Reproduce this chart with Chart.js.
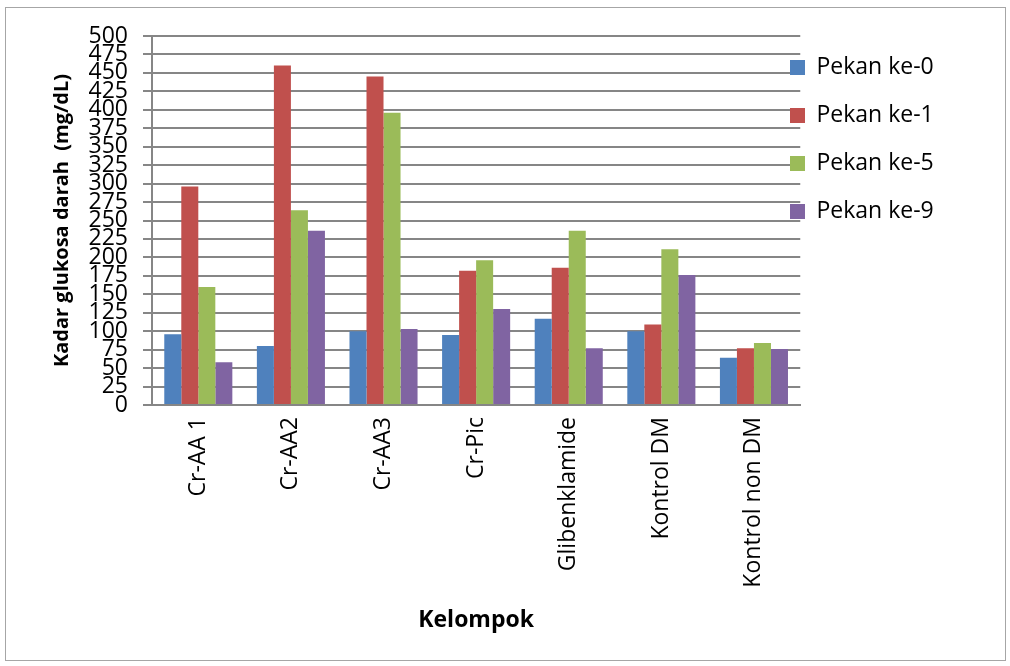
<!DOCTYPE html>
<html>
<head>
<meta charset="utf-8">
<script src="https://cdn.jsdelivr.net/npm/chart.js@4.4.0/dist/chart.umd.min.js"></script>
<style>
  html, body { margin: 0; padding: 0; background: #fff; }
  #frame { position: absolute; left: 5px; top: 7px; width: 999px; height: 652px; border: 1px solid #a6a6a6; }
  #wrap { position: absolute; left: 0; top: 0; width: 1010px; height: 666px; }
</style>
</head>
<body>
<div id="frame"></div>
<div id="wrap"><canvas id="chart" width="1010" height="666"></canvas></div>
<script>
var kelompok = ["Cr-AA 1", "Cr-AA2", "Cr-AA3", "Cr-Pic", "Glibenklamide", "Kontrol DM", "Kontrol non DM"];
var pekan0 = [96, 80, 100, 95, 117, 100, 64];
var pekan1 = [296, 460, 445, 182, 186, 109, 77];
var pekan5 = [160, 264, 396, 196, 236, 211, 84];
var pekan9 = [58, 236, 103, 130, 77, 176, 76];
var yTicks = [0, 25, 50, 75, 100, 125, 150, 175, 200, 225, 250, 275, 300, 325, 350, 375, 400, 425, 450, 475, 500];

var fam = "'Open Sans', 'Liberation Sans', sans-serif";

// nudge the legend a bit closer to the plot, like the original
var legendShift = {
    id: 'legendShift',
    afterLayout: function (chart) {
        var lg = chart.legend;
        var w = lg.right - lg.left;
        lg.left = 765;
        lg.right = lg.left + w;
        var h = lg.bottom - lg.top;
        lg.top = 31;
        lg.bottom = lg.top + h;
    }
};

var ctx = document.getElementById("chart").getContext("2d");
var myChart = new Chart(ctx, {
    type: 'bar',
    data: {
        labels: kelompok,
        datasets: [
            {label: 'Pekan ke-0', data: pekan0, backgroundColor: '#4F81BD'},
            {label: 'Pekan ke-1', data: pekan1, backgroundColor: '#C0504D'},
            {label: 'Pekan ke-5', data: pekan5, backgroundColor: '#9BBB59'},
            {label: 'Pekan ke-9', data: pekan9, backgroundColor: '#8064A2'}
        ]
    },
    plugins: [legendShift],
    options: {
        responsive: false,
        animation: false,
        datasets: {bar: {barPercentage: 1, categoryPercentage: 0.735}},
        layout: {padding: {left: 0, top: 36, right: 31, bottom: 0}},
        plugins: {
            tooltip: {enabled: false},
            legend: {
                position: 'right',
                align: 'start',
                labels: {
                    boxWidth: 15, boxHeight: 15, padding: 25,
                    color: '#000',
                    font: {family: fam, size: 23}
                }
            }
        },
        scales: {
            x: {
                afterFit: function (scale) { scale.height = 261; },
                grid: {display: false, drawTicks: false},
                border: {display: true, color: '#868686', width: 2},
                ticks: {
                    color: '#000', minRotation: 90, maxRotation: 90, autoSkip: false, padding: 12,
                    font: {family: fam, size: 23}
                },
                title: {
                    display: true, text: 'Kelompok', color: '#000', padding: {top: 0, bottom: 32},
                    font: {family: fam, size: 23, weight: 'bold'}
                }
            },
            y: {
                min: 0, max: 500,
                afterFit: function (scale) { scale.width = 152; },
                afterBuildTicks: function (axis) { axis.ticks = yTicks.map(function (v) { return {value: v}; }); },
                grid: {color: '#868686', lineWidth: 2, tickLength: 9},
                border: {display: true, color: '#868686', width: 2},
                ticks: {
                    color: '#000', padding: 15, autoSkip: false,
                    font: {family: fam, size: 23, lineHeight: 0.8}
                },
                title: {
                    display: true, text: 'Kadar glukosa darah  (mg/dL)', color: '#000', padding: {top: 50, bottom: 0},
                    font: {family: fam, size: 20, weight: 'bold'}
                }
            }
        }
    }
});
</script>
</body>
</html>
